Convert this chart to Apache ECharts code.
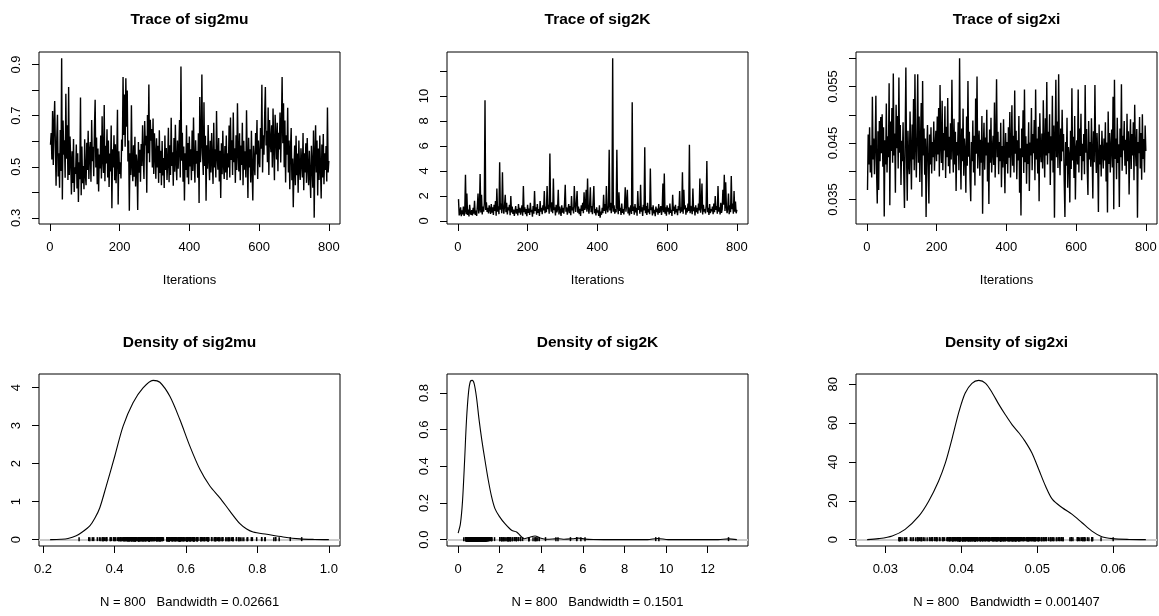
<!DOCTYPE html>
<html><head><meta charset="utf-8">
<script src="https://cdn.jsdelivr.net/npm/echarts@6/dist/echarts.min.js"></script>
<style>html,body{margin:0;padding:0;background:#fff}#c{width:1159px;height:616px}</style>
</head><body><div id="c"></div>
<script>
// ---------- text ----------
const traceTitles = ['Trace of sig2mu', 'Trace of sig2K', 'Trace of sig2xi'];
const densityTitles = ['Density of sig2mu', 'Density of sig2K', 'Density of sig2xi'];
const traceXLabel = 'Iterations';
const densityXLabels = ['N = 800   Bandwidth = 0.02661', 'N = 800   Bandwidth = 0.1501', 'N = 800   Bandwidth = 0.001407'];

// ---------- chain values (read every 2nd iteration) ----------
const iterationRange = [1, 800];
const iterStep = 2;
const sig2muTrace = [
0.586,0.632,0.528,0.718,0.507,0.663,0.757,0.581,0.426,0.612,
0.703,0.462,0.553,0.418,0.644,0.483,0.924,0.372,0.681,0.547,
0.604,0.457,0.786,0.531,0.662,0.448,0.812,0.468,0.618,0.523,
0.392,0.561,0.437,0.609,0.401,0.498,0.472,0.587,0.415,0.553,
0.362,0.518,0.451,0.771,0.389,0.579,0.436,0.503,0.412,0.608,
0.467,0.428,0.594,0.487,0.641,0.452,0.562,0.597,0.441,0.683,
0.522,0.578,0.463,0.651,0.762,0.497,0.614,0.432,0.571,0.403,
0.548,0.493,0.622,0.454,0.698,0.527,0.476,0.742,0.443,0.582,
0.513,0.647,0.458,0.603,0.421,0.552,0.482,0.661,0.338,0.568,
0.497,0.623,0.447,0.588,0.436,0.534,0.723,0.352,0.561,0.472,
0.518,0.454,0.607,0.562,0.851,0.624,0.783,0.578,0.846,0.657,
0.798,0.521,0.603,0.328,0.553,0.468,0.741,0.502,0.443,0.584,
0.461,0.617,0.423,0.548,0.512,0.331,0.597,0.477,0.566,0.441,
0.589,0.503,0.662,0.534,0.452,0.679,0.583,0.621,0.398,0.702,
0.553,0.822,0.518,0.684,0.602,0.648,0.497,0.689,0.472,0.631,
0.548,0.453,0.611,0.497,0.582,0.437,0.643,0.476,0.563,0.428,
0.601,0.466,0.534,0.417,0.622,0.487,0.573,0.448,0.521,0.653,
0.439,0.584,0.468,0.692,0.503,0.557,0.426,0.612,0.481,0.664,
0.518,0.447,0.603,0.492,0.571,0.683,0.458,0.892,0.524,0.633,
0.441,0.579,0.368,0.553,0.487,0.662,0.458,0.593,0.432,0.618,
0.501,0.568,0.447,0.642,0.483,0.693,0.527,0.438,0.604,0.512,
0.562,0.457,0.631,0.358,0.773,0.518,0.583,0.861,0.547,0.468,
0.752,0.503,0.621,0.367,0.584,0.492,0.663,0.528,0.447,0.602,
0.478,0.632,0.521,0.433,0.672,0.497,0.568,0.458,0.718,0.537,
0.488,0.612,0.442,0.563,0.378,0.592,0.471,0.641,0.508,0.452,
0.581,0.478,0.622,0.448,0.553,0.497,0.661,0.458,0.693,0.527,
0.604,0.468,0.712,0.518,0.572,0.437,0.623,0.487,0.748,0.552,
0.482,0.631,0.447,0.583,0.507,0.672,0.428,0.602,0.488,0.561,
0.458,0.721,0.532,0.378,0.613,0.497,0.568,0.438,0.641,0.487,
0.368,0.582,0.518,0.467,0.632,0.548,0.683,0.452,0.603,0.527,
0.498,0.652,0.571,0.821,0.478,0.623,0.547,0.702,0.812,0.583,
0.641,0.518,0.732,0.468,0.683,0.602,0.557,0.662,0.497,0.728,
0.578,0.447,0.703,0.621,0.528,0.672,0.482,0.633,0.568,0.712,
0.517,0.658,0.851,0.592,0.748,0.498,0.681,0.438,0.623,0.547,
0.731,0.478,0.603,0.412,0.568,0.652,0.447,0.532,0.342,0.498,
0.583,0.428,0.621,0.467,0.552,0.398,0.603,0.487,0.448,0.572,
0.518,0.458,0.632,0.408,0.553,0.478,0.592,0.437,0.612,0.497,
0.428,0.563,0.468,0.378,0.582,0.508,0.418,0.642,0.301,0.548,
0.662,0.478,0.603,0.388,0.571,0.448,0.622,0.497,0.376,0.587,
0.458,0.628,0.432,0.553,0.487,0.581,0.442,0.732,0.478,0.523
];
const sig2KTrace = [
1.75,0.45,0.62,1.10,0.38,0.85,0.52,1.15,0.41,0.78,
3.70,0.55,2.20,0.48,0.92,0.36,1.30,0.66,0.50,0.88,
0.44,1.05,0.58,1.62,0.49,0.83,0.40,1.20,2.20,0.61,
0.95,3.75,0.68,2.10,0.52,1.15,0.74,1.40,9.65,0.88,
1.50,0.72,1.05,0.60,1.25,0.95,0.57,1.35,0.66,1.10,
0.48,1.30,0.80,1.60,0.42,2.60,0.75,1.18,0.55,4.70,
0.90,1.40,0.62,3.90,1.05,0.58,1.25,2.10,0.70,1.45,
0.52,1.10,0.85,1.30,0.47,2.00,0.68,1.15,0.56,0.92,
0.40,0.80,1.20,0.58,0.95,0.44,1.35,0.66,1.05,0.50,
0.88,1.25,0.42,2.80,0.70,1.10,0.55,0.95,0.38,1.30,
0.64,1.00,0.48,1.45,0.72,0.90,0.35,1.20,0.58,2.40,
0.82,1.10,0.50,1.35,0.66,0.95,0.40,1.60,0.74,1.05,
0.55,1.25,0.85,2.40,0.62,1.15,0.70,2.80,0.95,1.30,
0.58,5.40,1.20,0.75,1.50,0.62,3.40,0.88,1.10,0.45,
1.30,0.70,0.95,2.50,0.52,1.15,0.80,0.40,1.25,0.66,
1.05,0.58,1.40,2.90,0.75,1.10,0.50,0.92,1.35,0.62,
1.20,0.46,2.00,0.85,1.10,0.60,2.80,1.30,0.72,1.50,
2.40,0.66,1.15,0.55,0.98,0.40,1.25,0.80,1.45,0.62,
2.30,0.90,1.10,2.50,0.75,3.40,1.05,0.58,1.30,2.70,
0.70,1.20,0.55,1.60,2.80,0.62,0.95,0.45,1.10,0.68,
0.85,0.40,1.25,0.27,0.75,0.50,1.05,0.62,2.10,0.80,
1.35,0.58,2.80,0.95,0.70,1.20,5.70,0.85,1.45,0.62,
1.10,13.00,0.75,1.25,0.58,0.95,0.70,5.70,1.15,0.55,
2.30,0.82,1.05,0.48,1.40,0.66,0.95,0.52,1.20,2.70,
0.75,1.30,2.50,0.60,1.10,0.45,0.92,1.25,0.56,9.50,
0.80,1.15,0.50,1.35,0.68,1.05,0.42,2.40,0.90,1.20,
0.58,2.90,0.75,1.10,0.40,1.30,0.85,5.90,0.62,1.20,
0.48,1.45,0.70,0.95,0.55,4.20,0.88,1.10,0.45,1.25,
0.62,0.90,0.38,1.15,0.72,1.00,0.50,1.35,0.66,0.85,
1.20,0.48,0.95,3.00,0.70,3.80,0.58,1.10,0.42,1.25,
0.75,1.05,0.52,1.40,0.66,0.90,0.40,2.10,0.80,1.15,
0.55,1.30,0.70,0.95,0.46,1.20,0.85,2.40,0.62,1.10,
0.75,3.90,0.58,2.50,0.92,1.25,0.50,1.05,0.68,1.40,
0.80,6.10,0.62,1.20,0.95,0.55,2.60,0.78,1.10,0.45,
1.25,0.70,1.05,0.58,1.40,0.85,3.40,0.66,1.15,3.00,
0.52,1.30,0.75,0.95,0.60,1.20,4.80,0.70,1.05,0.48,
1.35,0.62,0.95,0.78,1.15,0.55,1.40,0.70,2.00,0.88,
1.20,0.58,2.80,0.75,1.10,0.52,1.45,0.66,0.95,2.50,
1.30,3.70,0.80,3.10,1.15,0.62,1.05,2.20,0.55,1.25,
0.70,3.60,0.95,1.40,0.58,2.40,0.75,1.55,0.62,0.90
];
const sig2xiTrace = [
0.0367,0.0465,0.0412,0.0478,0.0398,0.0446,0.0389,0.0532,0.0421,0.0458,
0.0395,0.0447,0.0534,0.0402,0.0343,0.0471,0.0367,0.0489,0.0418,0.0496,
0.0432,0.0501,0.0408,0.0478,0.0320,0.0455,0.0412,0.0520,0.0398,0.0462,
0.0425,0.0556,0.0340,0.0488,0.0436,0.0512,0.0415,0.0573,0.0428,0.0467,
0.0362,0.0518,0.0441,0.0498,0.0405,0.0566,0.0433,0.0482,0.0376,0.0454,
0.0418,0.0487,0.0396,0.0335,0.0461,0.0584,0.0425,0.0348,0.0472,0.0414,
0.0395,0.0506,0.0437,0.0368,0.0483,0.0421,0.0528,0.0402,0.0572,0.0446,
0.0389,0.0464,0.0572,0.0415,0.0497,0.0381,0.0453,0.0521,0.0355,0.0560,
0.0428,0.0476,0.0394,0.0458,0.0319,0.0437,0.0482,0.0409,0.0343,0.0465,
0.0412,0.0478,0.0396,0.0452,0.0425,0.0488,0.0401,0.0443,0.0472,0.0418,
0.0497,0.0430,0.0512,0.0391,0.0553,0.0446,0.0415,0.0525,0.0402,0.0468,
0.0437,0.0515,0.0388,0.0479,0.0425,0.0530,0.0409,0.0461,0.0396,0.0485,
0.0421,0.0562,0.0444,0.0398,0.0493,0.0412,0.0470,0.0365,0.0452,0.0428,
0.0487,0.0402,0.0600,0.0445,0.0368,0.0476,0.0418,0.0511,0.0392,0.0458,
0.0435,0.0362,0.0497,0.0410,0.0560,0.0426,0.0470,0.0385,0.0347,0.0452,
0.0418,0.0490,0.0398,0.0463,0.0375,0.0529,0.0431,0.0568,0.0405,0.0447,
0.0472,0.0392,0.0456,0.0415,0.0498,0.0325,0.0441,0.0486,0.0403,0.0460,
0.0428,0.0509,0.0382,0.0451,0.0342,0.0474,0.0415,0.0495,0.0398,0.0437,
0.0463,0.0411,0.0522,0.0389,0.0448,0.0563,0.0425,0.0470,0.0395,0.0452,
0.0418,0.0486,0.0372,0.0445,0.0407,0.0492,0.0429,0.0361,0.0468,0.0413,
0.0452,0.0396,0.0478,0.0424,0.0505,0.0389,0.0440,0.0517,0.0410,0.0463,
0.0398,0.0543,0.0431,0.0472,0.0386,0.0455,0.0419,0.0498,0.0362,0.0441,
0.0322,0.0476,0.0425,0.0508,0.0397,0.0545,0.0416,0.0462,0.0378,0.0449,
0.0413,0.0487,0.0365,0.0451,0.0428,0.0512,0.0402,0.0466,0.0432,0.0491,
0.0384,0.0545,0.0421,0.0458,0.0396,0.0479,0.0347,0.0503,0.0438,0.0416,
0.0467,0.0405,0.0526,0.0443,0.0389,0.0494,0.0428,0.0558,0.0412,0.0470,
0.0432,0.0501,0.0376,0.0462,0.0419,0.0534,0.0398,0.0481,0.0318,0.0457,
0.0562,0.0425,0.0488,0.0406,0.0572,0.0441,0.0393,0.0476,0.0418,0.0509,
0.0435,0.0466,0.0382,0.0319,0.0452,0.0410,0.0495,0.0371,0.0443,0.0428,
0.0345,0.0472,0.0404,0.0547,0.0419,0.0461,0.0388,0.0498,0.0350,0.0437,
0.0455,0.0412,0.0545,0.0398,0.0476,0.0427,0.0502,0.0384,0.0449,0.0418,
0.0466,0.0395,0.0553,0.0433,0.0475,0.0402,0.0358,0.0489,0.0421,0.0452,
0.0408,0.0494,0.0435,0.0352,0.0471,0.0416,0.0553,0.0442,0.0397,0.0468,
0.0425,0.0328,0.0483,0.0412,0.0447,0.0391,0.0472,0.0436,0.0405,0.0458,
0.0419,0.0487,0.0382,0.0451,0.0327,0.0506,0.0413,0.0468,0.0398,0.0442,
0.0474,0.0407,0.0532,0.0333,0.0562,0.0422,0.0458,0.0386,0.0495,0.0415,
0.0448,0.0337,0.0476,0.0425,0.0554,0.0401,0.0463,0.0437,0.0489,0.0410,
0.0456,0.0395,0.0502,0.0418,0.0471,0.0359,0.0445,0.0492,0.0404,0.0466,
0.0428,0.0487,0.0384,0.0518,0.0441,0.0409,0.0475,0.0318,0.0452,0.0432,
0.0496,0.0405,0.0468,0.0385,0.0501,0.0422,0.0457,0.0398,0.0481,0.0436
];

// ---------- density curves ----------
const sig2muDensX = [0.220,0.250,0.270,0.293,0.310,0.331,0.345,0.359,0.377,0.401,0.424,0.452,0.480,0.508,0.527,0.555,0.583,0.611,0.639,0.667,0.695,0.723,0.751,0.770,0.788,0.826,0.872,0.919,0.960,1.000];
const sig2muDensY = [0,0.01,0.03,0.10,0.20,0.36,0.56,0.84,1.41,2.20,2.98,3.60,3.99,4.19,4.14,3.77,3.16,2.46,1.85,1.41,1.10,0.75,0.42,0.28,0.20,0.14,0.07,0.02,0.005,0];
const sig2KDensX = [0.00,0.11,0.21,0.31,0.40,0.50,0.59,0.68,0.77,0.88,1.01,1.14,1.29,1.45,1.61,1.77,1.98,2.25,2.57,2.81,2.97,3.17,3.38,3.70,3.94,4.26,4.66,4.85,5.10,5.50,5.80,6.10,6.50,7.50,9.10,9.60,10.10,12.50,13.00,13.40];
const sig2KDensY = [0.036,0.087,0.21,0.43,0.65,0.805,0.864,0.869,0.851,0.778,0.651,0.542,0.433,0.324,0.233,0.169,0.127,0.087,0.051,0.042,0.024,0.005,0.011,0.020,0.009,0.002,0.004,0.005,0.002,0.005,0.008,0.003,0.001,0,0,0.006,0,0,0.004,0];
const sig2xiDensX = [0.0276,0.0291,0.0309,0.0326,0.0344,0.0357,0.0370,0.0379,0.0388,0.0397,0.0405,0.0414,0.0423,0.0432,0.0441,0.0449,0.0458,0.0467,0.0476,0.0484,0.0493,0.0502,0.0511,0.0520,0.0533,0.0546,0.0559,0.0572,0.0585,0.0599,0.0621,0.0643];
const sig2xiDensY = [0,0.5,1.9,5.3,12.1,19.8,30.1,39.5,52.3,66,75.4,80.5,82,80.5,75.4,69.9,64.3,59.1,54.9,50.6,44.6,36.1,27.5,20.7,16.4,13,8.7,4.4,1.5,0.5,0.1,0];

// ---------- ticks and labelled ticks ----------
const traceXTicks = [0, 200, 400, 600, 800];
const sig2muTraceYTicks = [0.3, 0.4, 0.5, 0.6, 0.7, 0.8, 0.9];
const sig2muTraceYLabels = [0.3, 0.5, 0.7, 0.9];
const sig2KTraceYTicks = [0, 2, 4, 6, 8, 10, 12];
const sig2KTraceYLabels = [0, 2, 4, 6, 8, 10];
const sig2xiTraceYTicks = [0.035, 0.040, 0.045, 0.050, 0.055, 0.060];
const sig2xiTraceYLabels = [0.035, 0.045, 0.055];
const sig2muDensXTicks = [0.2, 0.4, 0.6, 0.8, 1.0];
const sig2muDensYTicks = [0, 1, 2, 3, 4];
const sig2KDensXTicks = [0, 2, 4, 6, 8, 10, 12];
const sig2KDensYTicks = [0, 0.2, 0.4, 0.6, 0.8];
const sig2xiDensXTicks = [0.03, 0.04, 0.05, 0.06];
const sig2xiDensYTicks = [0, 20, 40, 60, 80];

// ---------- build ----------
const FONT = '"Liberation Sans", Arial, Helvetica, sans-serif';
const lefts = [39, 447, 856], boxW = 301, tops = [52, 374], boxH = 172;
function rExt(lo, hi) { const d = (hi - lo) * 0.04; return [lo - d, hi + d]; }
const mn = a => Math.min.apply(null, a), mx = a => Math.max.apply(null, a);

const traces = [sig2muTrace, sig2KTrace, sig2xiTrace];
const densX = [sig2muDensX, sig2KDensX, sig2xiDensX];
const densY = [sig2muDensY, sig2KDensY, sig2xiDensY];
const tYT = [sig2muTraceYTicks, sig2KTraceYTicks, sig2xiTraceYTicks];
const tYL = [sig2muTraceYLabels, sig2KTraceYLabels, sig2xiTraceYLabels];
const tYDec = [1, 0, 3];
const dXT = [sig2muDensXTicks, sig2KDensXTicks, sig2xiDensXTicks];
const dXDec = [1, 0, 2];
const dYT = [sig2muDensYTicks, sig2KDensYTicks, sig2xiDensYTicks];
const dYDec = [0, 1, 0];

function axis(gi, range, ticks, labels, dec, isY) {
  return {
    type: 'value', gridIndex: gi, min: range[0], max: range[1],
    axisLine: { show: false, onZero: false }, splitLine: { show: false },
    axisTick: { show: true, inside: false, length: 7, customValues: ticks, lineStyle: { color: '#000', width: 1 } },
    axisLabel: { show: true, customValues: labels, formatter: v => Number(v).toFixed(dec),
      color: '#000', fontSize: 13, fontFamily: FONT, margin: isY ? 16 : 17, rotate: isY ? 90 : 0 }
  };
}

const grid = [], xAxis = [], yAxis = [], series = [], graphic = [];
function addText(text, x, y, bold, size) {
  graphic.push({ type: 'text', x: x, y: y, silent: true,
    style: { text: text, fill: '#000', font: (bold ? 'bold ' : '') + size + 'px ' + FONT,
      align: 'center', verticalAlign: 'middle', textAlign: 'center', textVerticalAlign: 'middle' } });
}

for (let k = 0; k < 3; k++) {
  const tr = traces[k];
  const iterations = tr.map((_, i) => (i + 1) * iterStep);
  grid.push({ left: lefts[k], top: tops[0], width: boxW, height: boxH, show: true, borderColor: '#000', borderWidth: 1, backgroundColor: 'transparent', containLabel: false, outerBoundsMode: 'none' });
  xAxis.push(axis(k, rExt(iterationRange[0], iterationRange[1]), traceXTicks, traceXTicks, 0, false));
  yAxis.push(axis(k, rExt(mn(tr), mx(tr)), tYT[k], tYL[k], tYDec[k], true));
  series.push({ type: 'line', xAxisIndex: k, yAxisIndex: k, data: tr.map((v, i) => [iterations[i], v]),
    symbol: 'none', showSymbol: false, lineStyle: { color: '#000', width: 1.4 }, silent: true, z: 2 });
  addText(traceTitles[k], lefts[k] + boxW / 2, 20, true, 15.5);
  addText(traceXLabel, lefts[k] + boxW / 2, 280.5, false, 13);
}
for (let k = 0; k < 3; k++) {
  const gi = 3 + k, dx = densX[k], dy = densY[k], tr = traces[k];
  const rugH = mx(dy) / 100;
  grid.push({ left: lefts[k], top: tops[1], width: boxW, height: boxH, show: true, borderColor: '#000', borderWidth: 1, backgroundColor: 'transparent', containLabel: false, outerBoundsMode: 'none' });
  xAxis.push(axis(gi, rExt(mn(dx), mx(dx)), dXT[k], dXT[k], dXDec[k], false));
  yAxis.push(axis(gi, rExt(mn(dy), mx(dy)), dYT[k], dYT[k], dYDec[k], true));
  series.push({ type: 'line', xAxisIndex: gi, yAxisIndex: gi, data: dx.map((v, i) => [v, dy[i]]),
    smooth: 0.3, symbol: 'none', showSymbol: false, lineStyle: { color: '#000', width: 1.1 }, silent: true, z: 2,
    markLine: { silent: true, z: 1, symbol: ['none', 'none'], label: { show: false }, animation: false,
      lineStyle: { color: '#cccccc', width: 2, type: 'solid' }, data: [{ yAxis: 0 }] } });
  series.push({ type: 'custom', xAxisIndex: gi, yAxisIndex: gi, data: tr.map(v => [v, rugH]),
    encode: { x: 0, y: 1 }, silent: true, z: 10,
    renderItem: function (params, api) {
      const p0 = api.coord([api.value(0), 0]);
      const p1 = api.coord([api.value(0), api.value(1)]);
      const top = Math.min(p1[1], p0[1] - 2) - 0.5;
      return { type: 'rect', z2: 10, shape: { x: p0[0] - 0.75, y: top, width: 1.5, height: p0[1] + 1.5 - top },
        style: { fill: '#000' } };
    } });
  addText(densityTitles[k], lefts[k] + boxW / 2, 342.5, true, 15.5);
  addText(densityXLabels[k], lefts[k] + boxW / 2, 602.5, false, 13);
}

const chart = echarts.init(document.getElementById('c'), null, { renderer: 'canvas', width: 1159, height: 616 });
chart.setOption({ animation: false, backgroundColor: '#fff', textStyle: { fontFamily: FONT },
  grid: grid, xAxis: xAxis, yAxis: yAxis, series: series, graphic: graphic });
</script></body></html>
